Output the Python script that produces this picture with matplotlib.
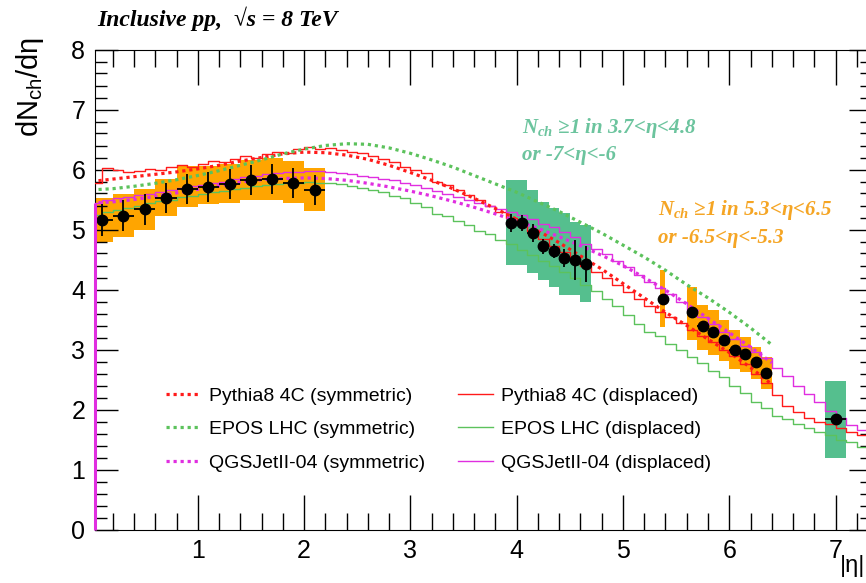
import numpy as np
import matplotlib.pyplot as plt
from matplotlib.ticker import MultipleLocator

plt.rcParams['mathtext.fontset'] = 'custom'
plt.rcParams['mathtext.rm'] = 'Liberation Sans'
plt.rcParams['mathtext.it'] = 'Liberation Serif:italic:bold'
plt.rcParams['mathtext.bf'] = 'Liberation Serif:italic:bold'

# measured points: inclusive (orange), 0 < |eta| < 2.2
incl_eta = [0.1, 0.3, 0.5, 0.7, 0.9, 1.1, 1.3, 1.5, 1.7, 1.9, 2.1]
incl_val = [5.16, 5.23, 5.34, 5.53, 5.68, 5.71, 5.76, 5.82, 5.85, 5.77, 5.66]
incl_stat = [0.27, 0.26, 0.26, 0.25, 0.25, 0.25, 0.25, 0.25, 0.25, 0.25, 0.25]
incl_up = [0.37, 0.36, 0.33, 0.31, 0.38, 0.35, 0.33, 0.34, 0.35, 0.37, 0.37]
incl_dn = [0.37, 0.35, 0.34, 0.30, 0.30, 0.28, 0.31, 0.33, 0.35, 0.32, 0.35]
incl_hw = 0.1

# Nch>=1 in 3.7<eta<4.8 (green)
fwd_eta = [3.95, 4.05, 4.15, 4.25, 4.35, 4.45, 4.55, 4.65]
fwd_val = [5.11, 5.11, 4.94, 4.72, 4.64, 4.52, 4.49, 4.43]
fwd_stat = [0.15, 0.13, 0.15, 0.12, 0.12, 0.15, 0.33, 0.30]
fwd_up = [0.72, 0.72, 0.72, 0.74, 0.72, 0.75, 0.64, 0.64]
fwd_dn = [0.70, 0.70, 0.67, 0.56, 0.59, 0.61, 0.58, 0.63]
fwd_hw = 0.05

# Nch>=1 in 5.3<eta<6.5 (orange)
t2a_eta = [5.375]
t2a_val = [3.85]
t2a_stat = [0.05]
t2a_up = [0.47]
t2a_dn = [0.48]
t2a_hw = 0.025

t2b_eta = [5.65, 5.75, 5.85, 5.95, 6.05, 6.15, 6.25, 6.35]
t2b_val = [3.62, 3.39, 3.29, 3.16, 3.00, 2.92, 2.79, 2.61]
t2b_stat = [0.05, 0.05, 0.05, 0.05, 0.05, 0.05, 0.05, 0.05]
t2b_up = [0.43, 0.35, 0.37, 0.33, 0.32, 0.29, 0.26, 0.27]
t2b_dn = [0.46, 0.40, 0.38, 0.35, 0.32, 0.30, 0.28, 0.26]
t2b_hw = 0.05

# green point near eta 7
far_eta = [7.0]
far_val = [1.84]
far_stat = [0.03]
far_up = [0.64]
far_dn = [0.64]
far_hw = 0.1

# symmetric MC predictions (dotted)
sym_eta = [0.0, 0.2, 0.4, 0.6, 0.8, 1.0, 1.2, 1.4, 1.6, 1.8, 2.0, 2.2, 2.4, 2.6, 2.8, 3.0, 3.2,
           3.4, 3.6, 3.8, 4.0, 4.2, 4.4, 4.6, 4.8, 5.0, 5.2, 5.4, 5.6, 5.8, 6.0, 6.2, 6.4]
pythia_sym = [5.80, 5.84, 5.88, 5.92, 5.96, 6.01, 6.07, 6.14, 6.20, 6.26, 6.29, 6.28, 6.24, 6.17, 6.07,
              5.95, 5.82, 5.68, 5.52, 5.35, 5.17, 4.98, 4.78, 4.56, 4.34, 4.10, 3.86, 3.62, 3.40,
              3.17, 2.95, 2.70, 2.42]
epos_sym = [5.66, 5.68, 5.72, 5.77, 5.83, 5.90, 5.98, 6.07, 6.16, 6.26, 6.34, 6.40, 6.43, 6.42, 6.36,
            6.27, 6.16, 6.04, 5.90, 5.76, 5.62, 5.46, 5.30, 5.12, 4.94, 4.74, 4.54, 4.32, 4.08,
            3.86, 3.62, 3.36, 3.08]
qgs_sym = [5.44, 5.46, 5.50, 5.55, 5.61, 5.67, 5.73, 5.79, 5.83, 5.85, 5.86, 5.85, 5.82, 5.77, 5.71,
           5.64, 5.56, 5.47, 5.37, 5.26, 5.14, 5.02, 4.88, 4.73, 4.57, 4.40, 4.20, 3.99, 3.76,
           3.52, 3.28, 3.04, 2.78]

# displaced MC predictions (histograms, bins of 0.1 from 0 to 7.4)
disp_edges = np.round(np.arange(0.0, 7.41, 0.1), 2)
pythia_disp = [5.78, 6.02, 6.00, 5.96, 5.98, 6.01, 5.99, 6.04, 6.08, 6.05,
               6.10, 6.14, 6.12, 6.18, 6.22, 6.20, 6.26, 6.30, 6.28, 6.34,
               6.38, 6.35, 6.36, 6.33, 6.30, 6.27, 6.22, 6.18, 6.12, 6.05,
               6.00, 5.95, 5.80, 5.74, 5.66, 5.58, 5.50, 5.40, 5.30, 5.20,
               5.10, 4.98, 4.85, 4.72, 4.62, 4.50, 4.40, 4.30, 4.20, 4.08,
               3.96, 3.84, 3.72, 3.62, 3.55, 3.45, 3.32, 3.22, 3.12, 3.00,
               2.90, 2.76, 2.60, 2.45, 2.24, 2.06, 1.96, 1.86, 1.80, 1.76,
               1.70, 1.62, 1.58, 1.55]
epos_disp = [5.25, 5.30, 5.33, 5.36, 5.40, 5.44, 5.47, 5.50, 5.54, 5.56,
             5.60, 5.62, 5.65, 5.68, 5.70, 5.72, 5.74, 5.76, 5.77, 5.78,
             5.79, 5.78, 5.77, 5.76, 5.72, 5.70, 5.66, 5.62, 5.56, 5.52,
             5.44, 5.38, 5.26, 5.22, 5.14, 5.08, 4.98, 4.92, 4.82, 4.76,
             4.66, 4.58, 4.48, 4.40, 4.30, 4.20, 4.08, 3.98, 3.84, 3.72,
             3.58, 3.42, 3.30, 3.22, 3.10, 3.00, 2.88, 2.78, 2.64, 2.54,
             2.40, 2.28, 2.12, 2.02, 1.90, 1.84, 1.76, 1.70, 1.62, 1.58,
             1.50, 1.46, 1.38, 1.34]
qgs_disp = [5.45, 5.50, 5.52, 5.55, 5.58, 5.60, 5.63, 5.66, 5.70, 5.72,
            5.75, 5.78, 5.80, 5.84, 5.87, 5.90, 5.92, 5.94, 5.96, 5.96,
            5.97, 5.97, 5.96, 5.95, 5.93, 5.90, 5.88, 5.85, 5.82, 5.78,
            5.74, 5.70, 5.64, 5.60, 5.55, 5.50, 5.44, 5.40, 5.34, 5.30,
            5.24, 5.18, 5.10, 5.04, 4.96, 4.88, 4.76, 4.68, 4.60, 4.48,
            4.38, 4.24, 4.12, 4.02, 3.92, 3.80, 3.66, 3.54, 3.42, 3.30,
            3.18, 3.06, 2.96, 2.86, 2.70, 2.56, 2.40, 2.26, 2.12, 1.98,
            1.86, 1.74, 1.66, 1.60]

RED = '#ff1a1a'
GREEN = '#5cc25c'
MAG = '#e02ee0'
ORANGE = '#ffa500'
TEAL = '#55bf8e'

fig = plt.figure(figsize=(8.66, 5.83), dpi=100)
ax = fig.add_axes([95 / 866, 53.5 / 583, 777 / 866, 480 / 583])
ax.set_xlim(0.033, 7.343)
ax.set_ylim(0, 8)


def draw_group(eta, val, stat, up, dn, hw, color):
    eta = np.array(eta)
    val = np.array(val)
    up = np.array(up)
    dn = np.array(dn)
    ax.bar(eta, up + dn, width=2 * hw, bottom=val - dn, color=color, lw=0, zorder=1)
    ax.errorbar(eta, val, yerr=stat, xerr=hw, fmt='o', color='black', ms=7.5,
                elinewidth=1.3, capsize=0, zorder=6)


draw_group(incl_eta, incl_val, incl_stat, incl_up, incl_dn, incl_hw, ORANGE)
draw_group(fwd_eta, fwd_val, fwd_stat, fwd_up, fwd_dn, fwd_hw, TEAL)
draw_group(t2a_eta, t2a_val, t2a_stat, t2a_up, t2a_dn, t2a_hw, ORANGE)
draw_group(t2b_eta, t2b_val, t2b_stat, t2b_up, t2b_dn, t2b_hw, ORANGE)
draw_group(far_eta, far_val, far_stat, far_up, far_dn, far_hw, TEAL)

dot = (0, (1, 1.2))
h1, = ax.plot(sym_eta, pythia_sym, color=RED, ls=dot, lw=2.3, zorder=4)
h2, = ax.plot(sym_eta, epos_sym, color=GREEN, ls=dot, lw=2.3, zorder=4)
h3, = ax.plot(sym_eta, qgs_sym, color=MAG, ls=dot, lw=2.3, zorder=4)


def step(vals, color):
    y = list(vals) + [vals[-1]]
    line, = ax.step(disp_edges, y, where='post', color=color, lw=1.0, zorder=3)
    return line


h4 = step(pythia_disp, RED)
h5 = step(epos_disp, GREEN)
h6 = step(qgs_disp, MAG)
ax.vlines(ax.get_xlim()[0], 0, qgs_disp[0], color=MAG, lw=2.2, zorder=7, clip_on=False)

leg = ax.legend([h1, h2, h3, h4, h5, h6],
                ['Pythia8 4C (symmetric)', 'EPOS LHC (symmetric)', 'QGSJetII-04 (symmetric)',
                 'Pythia8 4C (displaced)', 'EPOS LHC (displaced)', 'QGSJetII-04 (displaced)'],
                ncol=2, frameon=False, loc='upper left',
                bbox_to_anchor=(166 / 866, 1 - 387 / 583), bbox_transform=fig.transFigure,
                borderpad=0, borderaxespad=0, handlelength=1.8, handletextpad=0.4,
                columnspacing=1.7, labelspacing=0.82,
                prop={'family': ['Liberation Sans', 'DejaVu Sans'], 'size': 14})

ax.xaxis.set_major_locator(MultipleLocator(1))
ax.xaxis.set_minor_locator(MultipleLocator(0.2))
ax.yaxis.set_major_locator(MultipleLocator(1))
ax.yaxis.set_minor_locator(MultipleLocator(0.2))
ax.tick_params(which='both', direction='in', top=True, right=True, width=1)
ax.tick_params(axis='x', which='major', length=25, pad=7)
ax.tick_params(axis='x', which='minor', length=12.5)
ax.tick_params(axis='y', which='major', length=16.5, pad=7)
ax.tick_params(axis='y', which='minor', length=8.5)
for lab in ax.get_xticklabels() + ax.get_yticklabels():
    lab.set_family(['Liberation Sans', 'DejaVu Sans'])
    lab.set_fontsize(18)

fig.text(30 / 866, 1 - 37 / 583, 'dN$_{\\mathrm{ch}}$/dη', rotation=90, ha='center', va='top',
         fontsize=21, family=['Liberation Sans', 'DejaVu Sans'])
fig.text(865 / 866, 1 - 566 / 583, '|η|', ha='right', va='center',
         fontsize=17, family=['Liberation Sans', 'DejaVu Sans'])
fig.text(97 / 866, 1 - 19 / 583, 'Inclusive pp,  √s = 8 TeV', ha='left', va='center',
         fontsize=17, fontweight='bold', fontstyle='italic',
         family=['Liberation Serif', 'DejaVu Serif'])

serif = ['Liberation Serif', 'DejaVu Serif']
ax.text(4.05, 6.69, '$N_{ch}$ ≥1 in 3.7<η<4.8', color='#6cc49e', fontsize=15,
        fontweight='bold', fontstyle='italic', family=serif, va='center', ha='left')
ax.text(4.05, 6.24, 'or -7<η<-6', color='#6cc49e', fontsize=15,
        fontweight='bold', fontstyle='italic', family=serif, va='center', ha='left')
ax.text(5.33, 5.32, '$N_{ch}$ ≥1 in 5.3<η<6.5', color='#f5a524', fontsize=15,
        fontweight='bold', fontstyle='italic', family=serif, va='center', ha='left')
ax.text(5.33, 4.86, 'or -6.5<η<-5.3', color='#f5a524', fontsize=15,
        fontweight='bold', fontstyle='italic', family=serif, va='center', ha='left')

fig.savefig('out.png', dpi=100)
